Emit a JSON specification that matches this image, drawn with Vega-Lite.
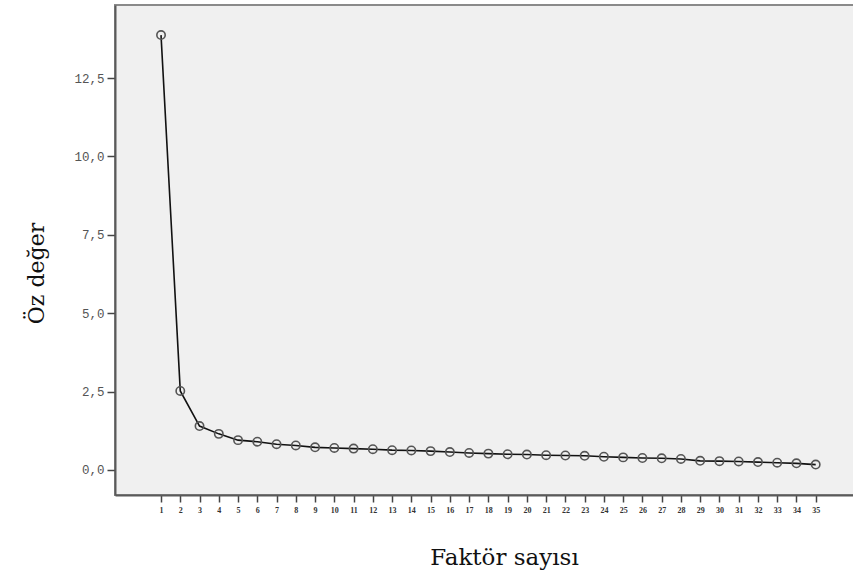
{
  "$schema": "https://vega.github.io/schema/vega-lite/v6.json",
  "autosize": {"type": "none"},
  "padding": {"left": 115, "top": 5, "right": 0, "bottom": 89},
  "width": 745,
  "height": 490,
  "background": "white",
  "config": {
    "view": {"fill": "#F0F0F0", "stroke": "#8a8a8a", "strokeWidth": 2},
    "axis": {"grid": false, "domainColor": "#5a5a5a", "domainWidth": 2, "tickColor": "#444", "tickWidth": 1.5, "labelColor": "#555", "labelFont": "Liberation Mono", "titleFont": "DejaVu Serif", "titleFontWeight": "normal", "titleColor": "#111", "titleFontSize": 22}
  },
  "data": {"values": [
    {"f": 1, "v": 13.87}, {"f": 2, "v": 2.52}, {"f": 3, "v": 1.40}, {"f": 4, "v": 1.15},
    {"f": 5, "v": 0.95}, {"f": 6, "v": 0.90}, {"f": 7, "v": 0.82}, {"f": 8, "v": 0.78},
    {"f": 9, "v": 0.72}, {"f": 10, "v": 0.70}, {"f": 11, "v": 0.68}, {"f": 12, "v": 0.66},
    {"f": 13, "v": 0.63}, {"f": 14, "v": 0.62}, {"f": 15, "v": 0.60}, {"f": 16, "v": 0.57},
    {"f": 17, "v": 0.54}, {"f": 18, "v": 0.52}, {"f": 19, "v": 0.50}, {"f": 20, "v": 0.49},
    {"f": 21, "v": 0.47}, {"f": 22, "v": 0.46}, {"f": 23, "v": 0.45}, {"f": 24, "v": 0.42},
    {"f": 25, "v": 0.40}, {"f": 26, "v": 0.38}, {"f": 27, "v": 0.37}, {"f": 28, "v": 0.35},
    {"f": 29, "v": 0.29}, {"f": 30, "v": 0.28}, {"f": 31, "v": 0.27}, {"f": 32, "v": 0.25},
    {"f": 33, "v": 0.23}, {"f": 34, "v": 0.21}, {"f": 35, "v": 0.17}
  ]},
  "encoding": {
    "x": {"field": "f", "type": "quantitative", "scale": {"domain": [-1.39, 37.3], "nice": false, "zero": false},
      "axis": {"title": "Faktör sayısı", "values": [1,2,3,4,5,6,7,8,9,10,11,12,13,14,15,16,17,18,19,20,21,22,23,24,25,26,27,28,29,30,31,32,33,34,35],
        "tickSize": 7, "labelFontSize": 8, "labelFont": "Liberation Serif", "labelColor": "#333", "labelPadding": 4, "labelFontWeight": "bold", "labelOverlap": false, "titleX": 389, "titleY": 62, "titleBaseline": "middle", "titleAlign": "center", "titleFontSize": 23}},
    "y": {"field": "v", "type": "quantitative", "scale": {"domain": [-0.8, 14.83], "nice": false, "zero": false},
      "axis": {"title": "Öz değer", "values": [0, 2.5, 5, 7.5, 10, 12.5], "tickSize": 8, "labelFontSize": 12.5, "labelPadding": 3,
        "labelExpr": "replace(format(datum.value, '.1f'), '.', ',')", "titleX": -79, "titleY": 268, "titleAlign": "center", "titleBaseline": "middle", "titleAngle": -90}}
  },
  "layer": [
    {"mark": {"type": "line", "color": "#111", "strokeWidth": 1.6}},
    {"mark": {"type": "point", "shape": "circle", "filled": false, "stroke": "#555", "strokeWidth": 1.6, "size": 70, "opacity": 1}}
  ]
}
